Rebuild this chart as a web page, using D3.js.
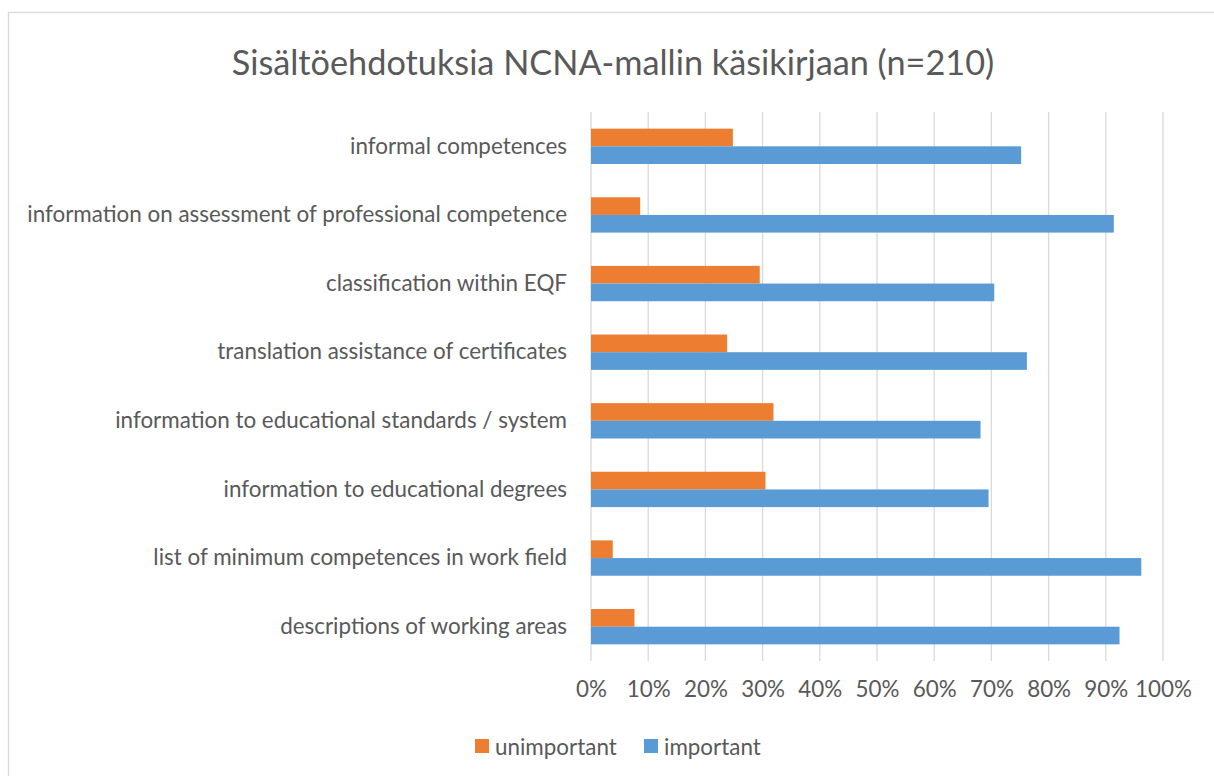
<!DOCTYPE html>
<html>
<head>
<meta charset="utf-8">
<script src="https://cdn.jsdelivr.net/npm/d3@7"></script>
<style>
  html, body { margin: 0; padding: 0; background: #fff; }
  svg { display: block; }
  text { font-family: Lato, "Open Sans", sans-serif; fill: #595959; }
</style>
</head>
<body>
<svg id="chart" width="1214" height="776"></svg>
<script>
const title = "Sisältöehdotuksia NCNA-mallin käsikirjaan (n=210)";
const categories = [
  "informal competences",
  "information on assessment of professional competence",
  "classification within EQF ",
  "translation assistance of certificates",
  "information to educational standards / system",
  "information to educational degrees",
  "list of minimum competences in work field",
  "descriptions of working areas"
];
const seriesNames = ["unimportant", "important"];
const unimportant = [24.8, 8.6, 29.5, 23.8, 31.9, 30.5, 3.8, 7.6];
const important   = [75.2, 91.4, 70.5, 76.2, 68.1, 69.5, 96.2, 92.4];
const tickValues = [0, 10, 20, 30, 40, 50, 60, 70, 80, 90, 100];
const colors = ["#ED7D31", "#5B9BD5"];

const svg = d3.select("#chart");
const W = 1214, H = 776;

// chart border
svg.append("rect").attr("x", 8.5).attr("y", 12.5).attr("width", 1220).attr("height", 800)
  .attr("fill", "#fff").attr("stroke", "#d9d9d9").attr("stroke-width", 1.3);

const plot = { left: 591, right: 1163, top: 112, bottom: 661 };

const x = d3.scaleLinear().domain([0, 100]).range([plot.left, plot.right]);
const y0 = d3.scaleBand().domain(categories).range([plot.top, plot.bottom])
  .paddingInner(0.485).paddingOuter(0.2425);
const y1 = d3.scaleBand().domain(seriesNames).range([0, y0.bandwidth()]);

// measure helper to fit font size to a target width
function fitSize(text, target, base) {
  const t = svg.append("text").attr("font-size", base).text(text);
  const w = t.node().getComputedTextLength();
  t.remove();
  return base * target / w;
}
const labelSize = fitSize(categories[1], 540, 20);
const titleSize = fitSize(title, 763, 31);

// gridlines
const grid = svg.append("g").attr("class", "grid");
grid.selectAll("line").data(tickValues).join("line")
  .attr("x1", d => x(d)).attr("x2", d => x(d))
  .attr("y1", plot.top).attr("y2", plot.bottom)
  .attr("stroke", "#d9d9d9").attr("stroke-width", 1.3);

// bars
const rows = categories.map((c, i) => ({ cat: c, values: [unimportant[i], important[i]] }));
const groups = svg.append("g").selectAll("g").data(rows).join("g")
  .attr("transform", d => `translate(0,${y0(d.cat)})`);
groups.selectAll("rect").data(d => d.values.map((v, j) => ({ key: seriesNames[j], v, j })))
  .join("rect")
  .attr("x", x(0))
  .attr("y", d => y1(d.key))
  .attr("width", d => x(d.v) - x(0))
  .attr("height", y1.bandwidth())
  .attr("fill", d => colors[d.j]);

// category labels
const yAxis = d3.axisLeft(y0).tickSize(0).tickPadding(24);
const ya = svg.append("g").attr("transform", `translate(${plot.left},0)`).call(yAxis);
ya.select(".domain").remove();
ya.selectAll("text").attr("font-size", labelSize).attr("fill", "#595959")
  .style("font-family", "Lato, 'Open Sans', sans-serif");

// x tick labels
const xAxis = d3.axisBottom(x).tickValues(tickValues).tickFormat(d => d + "%").tickSize(0).tickPadding(20);
const xa = svg.append("g").attr("transform", `translate(0,${plot.bottom})`).call(xAxis);
xa.select(".domain").remove();
xa.selectAll("text").attr("font-size", labelSize).attr("fill", "#595959")
  .style("font-family", "Lato, 'Open Sans', sans-serif");

// title
svg.append("text").attr("x", 613).attr("y", 61).attr("text-anchor", "middle")
  .attr("dominant-baseline", "central").attr("font-size", titleSize).text(title);

// legend
const legendX = [475, 644];
const lg = svg.append("g").selectAll("g").data(seriesNames).join("g")
  .attr("transform", (d, i) => `translate(${legendX[i]},739)`);
lg.append("rect").attr("width", 14).attr("height", 14).attr("fill", (d, i) => colors[i]);
lg.append("text").attr("x", 20).attr("y", 7).attr("dominant-baseline", "central")
  .attr("font-size", labelSize).text(d => d);
</script>
</body>
</html>
